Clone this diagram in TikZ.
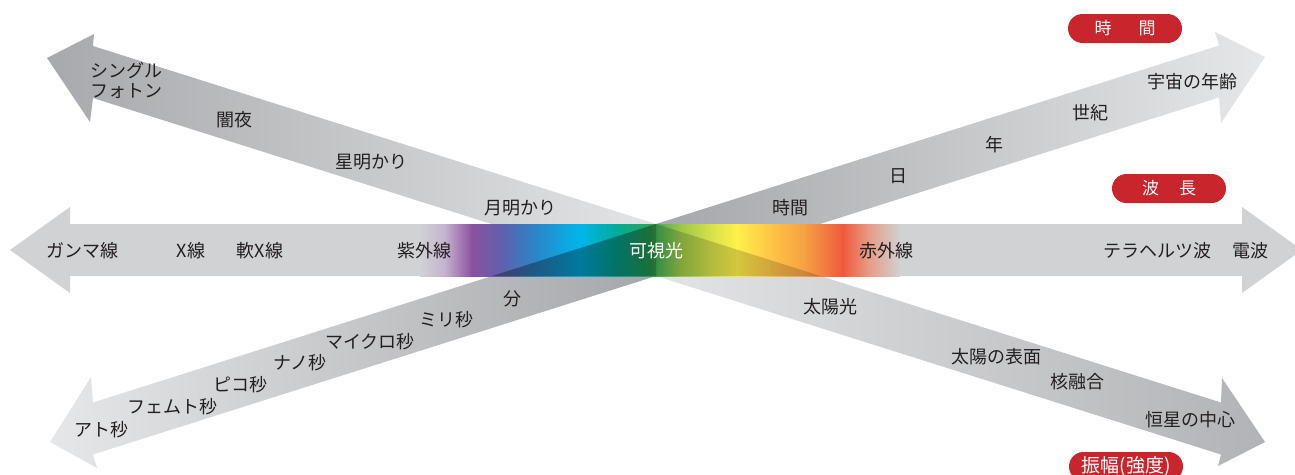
\documentclass[tikz,border=0pt]{standalone}
\usepackage{fontspec}
\newfontfamily\jp{Noto Sans CJK JP}
\definecolor{txt}{HTML}{231F20}
\definecolor{badge}{HTML}{C9252C}
\definecolor{hgray}{HTML}{D1D2D4}
\definecolor{s0}{HTML}{D1D2D4}
\definecolor{s1}{HTML}{C4B3CF}
\definecolor{s2}{HTML}{8C509F}
\definecolor{s3}{HTML}{5A63AE}
\definecolor{s4}{HTML}{2A86C8}
\definecolor{s5}{HTML}{00B6EC}
\definecolor{s6}{HTML}{00AD9B}
\definecolor{s7}{HTML}{2AA655}
\definecolor{s8}{HTML}{9AC748}
\definecolor{s9}{HTML}{D9E24A}
\definecolor{s10}{HTML}{FFF04A}
\definecolor{s11}{HTML}{FDC046}
\definecolor{s12}{HTML}{F6A043}
\definecolor{s13}{HTML}{EF5A3C}
\definecolor{s14}{HTML}{E79A82}
\definecolor{s15}{HTML}{D1D2D4}
\definecolor{gA}{HTML}{A8A9AC}
\definecolor{gB}{HTML}{E3E4E5}
\definecolor{gC}{HTML}{B2B3B6}
\definecolor{gD}{HTML}{E6E7E8}
\definecolor{gE}{HTML}{A6A7AA}
\begin{document}
\begin{tikzpicture}[x=1pt,y=-1pt,
  lbl/.style={font=\jp\fontsize{18}{21}\selectfont, text=txt, inner sep=0pt},
  wlbl/.style={lbl, text=white},
  badgebox/.style={fill=badge, rounded corners=14.5pt, minimum width=114pt,
    minimum height=29pt, inner sep=0pt, text=white,
    font=\jp\fontsize{17}{19}\selectfont}]
\useasboundingbox (0,0) rectangle (1295,474);
\clip (0,0) rectangle (1295,474);

% ---- amplitude arrow (top-left to bottom-right)
\shade[left color=gA, right color=gB]
  (47,58) -- (94,34) -- (93,46) -- (656,224) -- (656,276) -- (93,98) -- (90,122) -- cycle;
\shade[left color=gB, right color=gC]
  (656,224) -- (1221,402.5) -- (1222,378) -- (1265,442) -- (1218,466) -- (1221,454.5) -- (656,276) -- cycle;

% ---- time arrow (bottom-left to top-right)
\shade[left color=gD, right color=gE]
  (50,442) -- (91,377) -- (93,402.5) -- (656,224) -- (656,276) -- (93,454.5) -- (97,468) -- cycle;
\shade[left color=gE, right color=gD]
  (656,224) -- (1219,45.5) -- (1215,32) -- (1265,57) -- (1221,123) -- (1219,97.5) -- (656,276) -- cycle;

% ---- wavelength arrow (horizontal)
\fill[hgray] (10,250) -- (70,207) -- (70,224) -- (1242,224) -- (1242,207) -- (1302,250)
  -- (1242,293) -- (1242,276) -- (70,276) -- (70,293) -- cycle;
\foreach \xa/\ca/\xb/\cb in {420/s0/445/s1, 445/s1/472/s2, 472/s2/505/s3, 505/s3/535/s4,
  535/s4/580/s5, 580/s5/615/s6, 615/s6/650/s7, 650/s7/680/s8, 680/s8/712/s9,
  712/s9/737/s10, 737/s10/775/s11, 775/s11/805/s12, 805/s12/843/s13,
  843/s13/868/s14, 868/s14/900/s15}
  \shade[left color=\ca, right color=\cb] (\xa-0.4,224) rectangle (\xb+0.4,276);
% overlaps (shadows of the diagonals)
\fill[black, opacity=0.33] (492,276) -- (656,224) -- (656,276) -- cycle;
\fill[black, opacity=0.17] (656,224) -- (820.5,276) -- (656,276) -- cycle;

% ---- wavelength labels
\node[lbl] (gamma) at (82,251) {ガンマ線};
\node[lbl] (xray) at (191,251) {X線};
\node[lbl] (softx) at (260,251) {軟X線};
\node[lbl] (uv) at (424,251) {紫外線};
\node[wlbl] (vis) at (656,251) {可視光};
\node[lbl] (ir) at (886,251) {赤外線};
\node[lbl] (thz) at (1157,251) {テラヘルツ波};
\node[lbl] (radio) at (1250,251) {電波};

% ---- amplitude labels
\node[lbl, align=left, font=\jp\fontsize{18}{20}\selectfont] (photon) at (126,80) {シングル\\フォトン};
\node[lbl] (yamiyo) at (234,120) {闇夜};
\node[lbl] (star) at (371,162) {星明かり};
\node[lbl] (moon) at (520,208) {月明かり};
\node[lbl] (sun) at (830,307) {太陽光};
\node[lbl] (surf) at (996,357) {太陽の表面};
\node[lbl] (fusion) at (1077,382) {核融合};
\node[lbl] (core) at (1190,420) {恒星の中心};

% ---- time labels
\node[lbl] (atto) at (101,430) {アト秒};
\node[lbl] (femto) at (172,407) {フェムト秒};
\node[lbl] (pico) at (240,385) {ピコ秒};
\node[lbl] (nano) at (300,363) {ナノ秒};
\node[lbl] (micro) at (370,342) {マイクロ秒};
\node[lbl] (milli) at (446,320) {ミリ秒};
\node[lbl] (minute) at (512,299) {分};
\node[lbl] (hour) at (790,208) {時間};
\node[lbl] (day) at (898,176) {日};
\node[lbl] (year) at (994,145) {年};
\node[lbl] (century) at (1090,113) {世紀};
\node[lbl] (universe) at (1192,82) {宇宙の年齢};

% ---- badges
\node[badgebox] (btime) at (1125,28.5) {時\hspace{27pt}間};
\node[badgebox] (bwave) at (1169,188.5) {波\hspace{20pt}長};
\node[badgebox, font=\jp\fontsize{19}{21}\selectfont] (bamp) at (1126,466.5) {振幅(強度)};
\end{tikzpicture}
\end{document}
